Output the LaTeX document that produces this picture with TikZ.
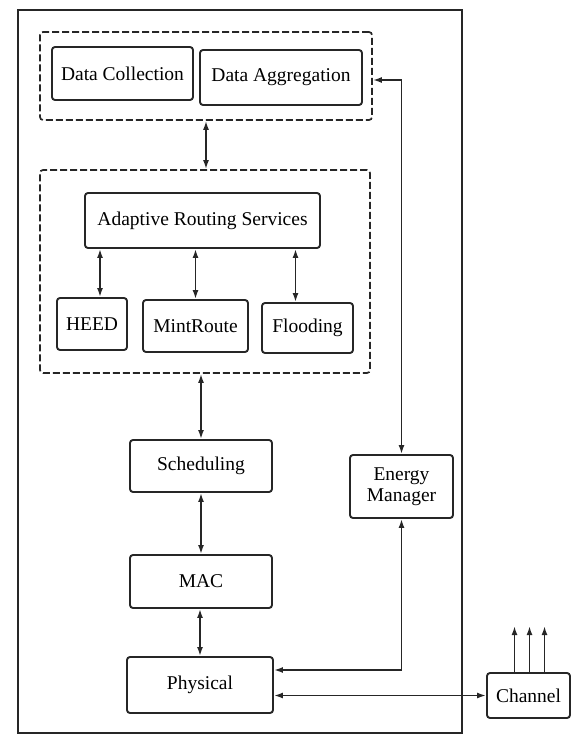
\documentclass[tikz,border=0pt]{standalone}
\usepackage{fontspec}
\setmainfont{Liberation Serif}
\usepackage{tikz}
\usetikzlibrary{arrows.meta,positioning,calc}

\begin{document}
\begin{tikzpicture}[
                x=1pt, y=-1pt,
                font=\fontsize{19.5}{21}\selectfont,
                module/.style={rectangle, rounded corners=3pt, draw=black!85, line width=1.9pt, align=center, inner sep=2pt},
                group/.style={rectangle, rounded corners=3pt, draw=black!85, line width=1.7pt, dash pattern=on 7pt off 3pt},
                frame/.style={rectangle, draw=black!85, line width=2pt},
                biarrow/.style={{Latex[length=9pt,width=6pt]}-{Latex[length=9pt,width=6pt]}, line width=1.7pt, black!85},
                uparrow/.style={-{Latex[length=9pt,width=6pt]}, line width=1.7pt, black!85},
            ]
            \useasboundingbox (0,0) rectangle (573,738);

            \node[frame, minimum width=444pt, minimum height=723pt] (node) at (240,371.5) {};

            \node[group, minimum width=332pt, minimum height=88pt]  (grpA) at (206,76) {};
            \node[group, minimum width=330pt, minimum height=203pt] (grpB) at (205,271.5) {};

            \node[module, minimum width=141pt, minimum height=53pt] (DC)  at (122.5,73.5) {Data Collection};
            \node[module, minimum width=162pt, minimum height=55pt] (DA)  at (281,77.5)   {Data Aggregation};

            \node[module, minimum width=235pt, minimum height=55pt] (ARS) at (202.5,220.5) {Adaptive Routing Services};
            \node[module, minimum width=70pt,  minimum height=52pt] (HEED) at (92,324)    {HEED};
            \node[module, minimum width=105pt, minimum height=52pt] (MR)  at (195.5,326)  {MintRoute};
            \node[module, minimum width=91pt,  minimum height=50pt] (FL)  at (307.5,328)  {Flooding};

            \node[module, minimum width=142pt, minimum height=52pt] (SCH) at (201,466)    {Scheduling};
            \node[module, minimum width=103pt, minimum height=63pt] (EM)  at (401.5,486.5) {Energy\\Manager};
            \node[module, minimum width=142pt, minimum height=53pt] (MAC) at (201,581.5)  {MAC};
            \node[module, minimum width=146pt, minimum height=56pt] (PHY) at (200,685)    {Physical};
            \node[module, minimum width=83pt,  minimum height=45pt] (CH)  at (528.5,695.5) {Channel};

            % stack
            \draw[biarrow] (grpA.south) -- (grpA.south |- grpB.north);
            \draw[biarrow] ([xshift=8pt]HEED.north) -- ([xshift=8pt]HEED.north |- ARS.south);
            \draw[biarrow] (MR.north) -- (MR.north |- ARS.south);
            \draw[biarrow] ([xshift=-12pt]FL.north) -- ([xshift=-12pt]FL.north |- ARS.south);
            \draw[biarrow] (SCH.north |- grpB.south) -- (SCH.north);
            \draw[biarrow] (SCH.south) -- (MAC.north);
            \draw[biarrow] (MAC.south -| PHY.north) -- (PHY.north);

            % energy manager
            \draw[biarrow] (EM.north) |- ([yshift=-4pt]grpA.east);
            \draw[biarrow] (EM.south) |- ([yshift=15pt]PHY.east);

            % radio
            \draw[biarrow] (PHY.east |- CH.west) -- (CH.west);
            \foreach \dx in {-14,1,16}
            \draw[uparrow] ([xshift=\dx pt]CH.north) -- ++(0,-46);
        \end{tikzpicture}
\end{document}
